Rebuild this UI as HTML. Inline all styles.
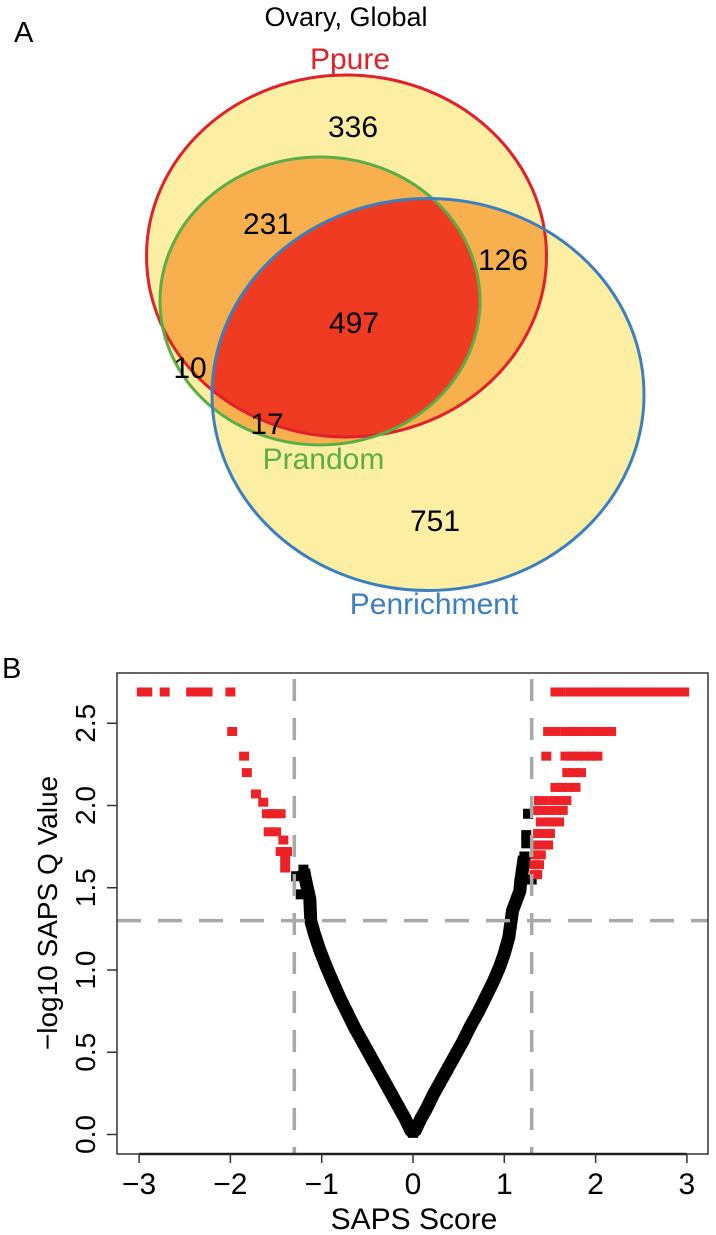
<!DOCTYPE html>
<html>
<head>
<meta charset="utf-8">
<style>
  html,body{margin:0;padding:0;background:#fff;}
  svg{display:block;}
  text{font-family:"Liberation Sans",Arial,sans-serif;}
</style>
</head>
<body>
<svg id="fig" width="716" height="1235" viewBox="0 0 716 1235" xmlns="http://www.w3.org/2000/svg">
  <defs>
    <clipPath id="clipRed"><ellipse cx="346.5" cy="256" rx="200" ry="181"/></clipPath>
    <clipPath id="clipGreen"><ellipse cx="320" cy="301" rx="160" ry="144"/></clipPath>
    <clipPath id="clipBlue"><ellipse cx="428" cy="394.5" rx="216" ry="196"/></clipPath>
    <clipPath id="plotClip"><rect x="117" y="673" width="591" height="481"/></clipPath>
  </defs>

  <!-- Panel A: Venn -->
  <g>
    <text x="14" y="42" font-size="29">A</text>
    <text x="346" y="26" font-size="27" text-anchor="middle">Ovary, Global</text>

    <ellipse cx="346.5" cy="256" rx="200" ry="181" fill="#FCEFA3"/>
    <ellipse cx="428" cy="394.5" rx="216" ry="196" fill="#FCEFA3"/>
    <ellipse cx="320" cy="301" rx="160" ry="144" fill="#FCEFA3"/>
    <ellipse cx="320" cy="301" rx="160" ry="144" fill="#F8B04E" clip-path="url(#clipRed)"/>
    <ellipse cx="320" cy="301" rx="160" ry="144" fill="#F8B04E" clip-path="url(#clipBlue)"/>
    <ellipse cx="346.5" cy="256" rx="200" ry="181" fill="#F8B04E" clip-path="url(#clipBlue)"/>
    <g clip-path="url(#clipRed)">
      <ellipse cx="320" cy="301" rx="160" ry="144" fill="#EE3B22" clip-path="url(#clipBlue)"/>
    </g>

    <ellipse cx="346.5" cy="256" rx="200" ry="181" fill="none" stroke="#E0202B" stroke-width="3"/>
    <ellipse cx="320" cy="301" rx="160" ry="144" fill="none" stroke="#5BAD45" stroke-width="3"/>
    <ellipse cx="428" cy="394.5" rx="216" ry="196" fill="none" stroke="#3C7FBE" stroke-width="3"/>

    <text x="350" y="69" font-size="30" text-anchor="middle" fill="#E0202B">Ppure</text>
    <text x="323.5" y="469" font-size="30" text-anchor="middle" fill="#5BAD45">Prandom</text>
    <text x="434" y="614" font-size="30" text-anchor="middle" fill="#3C7FBE">Penrichment</text>

    <g font-size="30" text-anchor="middle" fill="#000">
      <text x="353" y="137">336</text>
      <text x="268" y="234">231</text>
      <text x="503" y="270">126</text>
      <text x="354" y="333">497</text>
      <text x="190" y="378">10</text>
      <text x="267" y="434">17</text>
      <text x="435" y="531">751</text>
    </g>
  </g>

  <!-- Panel B: volcano -->
  <g>
    <text x="2" y="678" font-size="29">B</text>
    <g id="marks" clip-path="url(#plotClip)"></g>
    <g id="refs"></g>
    <rect x="117" y="673" width="591" height="481" fill="none" stroke="#333" stroke-width="1.5"/>
    <g id="xaxis"></g>
    <g id="yaxis"></g>
    <text x="414" y="1229" font-size="30" text-anchor="middle">SAPS Score</text>
    <text transform="translate(57,913) rotate(-90)" font-size="28" text-anchor="middle">−log10 SAPS Q Value</text>
  </g>
</svg>
<script>
// ---- data ----
const xTicks = [-3, -2, -1, 0, 1, 2, 3];
const xTickLabels = ["−3", "−2", "−1", "0", "1", "2", "3"];
const yTicks = [0, 0.5, 1, 1.5, 2, 2.5];
const yTickLabels = ["0.0", "0.5", "1.0", "1.5", "2.0", "2.5"];
const scoreCutoffs = [-1.3, 1.3];
const qCutoff = 1.3;

const blackX = [-1.28,-1.23,-1.2,-1.17,-1.13,-1.12,-1.08,-1.02,-0.95,-0.88,-0.8,-0.72,-0.64,-0.55,-0.46,-0.38,-0.3,-0.22,-0.15,-0.08,-0.03,0,
                0.03,0.08,0.15,0.22,0.3,0.38,0.46,0.55,0.63,0.72,0.8,0.88,0.95,1.0,1.05,1.09,1.13,1.17,1.18,1.22,1.24,1.24,1.26,1.3];
const blackY = [1.57,1.46,1.61,1.53,1.43,1.3,1.22,1.12,1.02,0.93,0.83,0.74,0.65,0.56,0.47,0.39,0.31,0.23,0.16,0.09,0.03,0.01,
                0.03,0.09,0.16,0.24,0.32,0.4,0.48,0.57,0.66,0.75,0.84,0.93,1.02,1.1,1.2,1.36,1.42,1.48,1.54,1.69,1.77,1.82,1.95,1.55];

const redX = [-2.97,-2.91,-2.72,-2.43,-2.37,-2.3,-2.25,-2.0,-1.98,-1.85,-1.82,-1.72,-1.64,-1.6,-1.55,-1.5,-1.45,-1.58,-1.5,-1.42,-1.45,-1.38,-1.4,-1.4,
  1.56,1.62,1.73,1.8,1.87,1.94,2.0,2.07,2.14,2.2,2.27,2.34,2.41,2.48,2.55,2.62,2.69,2.76,2.83,2.9,2.97,
  1.48,1.56,1.67,1.74,1.81,1.88,1.95,2.02,2.1,2.17,
  1.46,1.67,1.74,1.81,1.88,1.95,2.02,
  1.69,1.76,1.84,
  1.56,1.63,1.7,1.78,
  1.38,1.43,1.54,1.61,1.68,
  1.35,1.42,1.5,1.57,1.64,1.4,1.47,1.54,1.6,1.37,1.44,1.5,1.36,1.42,1.48,1.34,1.4,1.33,1.38,1.33,1.36];
const redY = [2.69,2.69,2.69,2.69,2.69,2.69,2.69,2.69,2.45,2.3,2.2,2.07,2.02,1.95,1.95,1.95,1.95,1.84,1.84,1.79,1.72,1.72,1.67,1.62,
  2.69,2.69,2.69,2.69,2.69,2.69,2.69,2.69,2.69,2.69,2.69,2.69,2.69,2.69,2.69,2.69,2.69,2.69,2.69,2.69,2.69,
  2.45,2.45,2.45,2.45,2.45,2.45,2.45,2.45,2.45,2.45,
  2.3,2.3,2.3,2.3,2.3,2.3,2.3,
  2.2,2.2,2.2,
  2.11,2.11,2.11,2.11,
  2.03,2.03,2.03,2.03,2.03,
  1.97,1.97,1.97,1.97,1.97,1.9,1.9,1.9,1.9,1.83,1.83,1.83,1.76,1.76,1.76,1.7,1.7,1.64,1.64,1.58,1.58];

const X0 = 413, XU = 91.3;
const Y0 = 1134.5, YU = 164.5;
function sx(v){ return X0 + v*XU; }
function sy(v){ return Y0 - v*YU; }
const NS = "http://www.w3.org/2000/svg";
function mk(tag, attrs, parent){
  const el = document.createElementNS(NS, tag);
  for (const k in attrs) el.setAttribute(k, attrs[k]);
  parent.appendChild(el);
  return el;
}
const marks = document.getElementById('marks');
const refs = document.getElementById('refs');
const xaxis = document.getElementById('xaxis');
const yaxis = document.getElementById('yaxis');

let pts = [];
for (let i = 0; i < 22; i++) pts.push(sx(blackX[i]) + ',' + sy(blackY[i]));
const leftLine = mk('polyline', {points: pts.slice(2).join(' '), fill:'none', stroke:'#000', 'stroke-width':13, 'stroke-linejoin':'round'}, marks);


pts = [];
for (let i = 21; i < 42; i++) pts.push(sx(blackX[i]) + ',' + sy(blackY[i]));
const rightLine = mk('polyline', {points: pts.join(' '), fill:'none', stroke:'#000', 'stroke-width':13, 'stroke-linejoin':'round'}, marks);


for (let i = 0; i < blackX.length; i++) {
  const r = mk('rect', {x: sx(blackX[i]) - 5, y: sy(blackY[i]) - 5, width: 10, height: 10, fill:'#000'}, marks);
  
  
}
for (let i = 0; i < redX.length; i++) {
  const r = mk('rect', {x: sx(redX[i]) - 5, y: sy(redY[i]) - 4.5, width: 10, height: 9, fill:'#EC2227'}, marks);
  
  
}

scoreCutoffs.forEach(c => {
  const l = mk('line', {x1: sx(c), x2: sx(c), y1: 679, y2: 1154, stroke:'#A8A8A8', 'stroke-width':3.5, 'stroke-dasharray':'22 17'}, refs);
  
  
});
const hl = mk('line', {x1: 117, x2: 708, y1: sy(qCutoff), y2: sy(qCutoff), stroke:'#A8A8A8', 'stroke-width':3.5, 'stroke-dasharray':'24 17'}, refs);



const xl = mk('line', {x1: sx(xTicks[0]), x2: sx(xTicks[xTicks.length-1]), y1: 1154, y2: 1154, stroke:'#222', 'stroke-width':2.5}, xaxis);


xTicks.forEach((t, i) => {
  const tk = mk('line', {x1: sx(t), x2: sx(t), y1: 1154, y2: 1163, stroke:'#333', 'stroke-width':1.5}, xaxis);
  
  
  const tx = mk('text', {x: sx(t), y: 1194, 'font-size': 30, 'text-anchor':'middle'}, xaxis);
  tx.textContent = xTickLabels[i];
  
  
});
yTicks.forEach((t, i) => {
  const tk = mk('line', {x1: 107, x2: 117, y1: sy(t), y2: sy(t), stroke:'#333', 'stroke-width':1.5}, yaxis);
  
  
  const tx = mk('text', {x: 0, y: 0, 'font-size': 28, 'text-anchor':'middle', transform: 'translate(95,' + sy(t) + ') rotate(-90)'}, yaxis);
  tx.textContent = yTickLabels[i];
  
  
});
</script>
</body>
</html>
